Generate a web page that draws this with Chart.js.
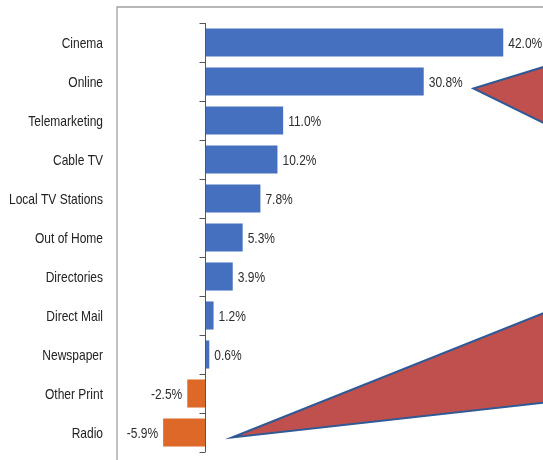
<!DOCTYPE html>
<html>
<head>
<meta charset="utf-8">
<script src="https://cdn.jsdelivr.net/npm/chart.js@4.4.1/dist/chart.umd.min.js"></script>
<style>
  html, body { margin: 0; padding: 0; background: #fff; }
  #wrap { width: 543px; height: 460px; position: relative; }
</style>
</head>
<body>
<div id="wrap"><canvas id="chart"></canvas></div>
<script>
// data
const categories = ['Cinema', 'Online', 'Telemarketing', 'Cable TV', 'Local TV Stations',
  'Out of Home', 'Directories', 'Direct Mail', 'Newspaper', 'Other Print', 'Radio'];
const growth = [42.0, 30.8, 11.0, 10.2, 7.8, 5.3, 3.9, 1.2, 0.6, -2.5, -5.9];

const blue = '#4570bf';
const orange = '#de6828';
const fontFamily = '"Liberation Sans", Arial, sans-serif';

// condensed text (narrow font look)
function narrowText(ctx, txt, x, y, align, sx) {
  ctx.save();
  ctx.translate(x, y);
  ctx.scale(sx, 1);
  ctx.textAlign = align;
  ctx.fillText(txt, 0, 0);
  ctx.restore();
}

// zero axis with tick marks + frame + category labels
const axisPlugin = {
  id: 'axisPlugin',
  afterDatasetsDraw(chart) {
    const { ctx, chartArea, scales } = chart;
    const x0 = Math.round(scales.x.getPixelForValue(0)) + 0.5;
    ctx.save();
    // frame
    ctx.strokeStyle = '#a0a0a0';
    ctx.lineWidth = 1.3;
    ctx.beginPath();
    ctx.moveTo(chartArea.left, chart.height);
    ctx.lineTo(chartArea.left, chartArea.top - 16);
    ctx.lineTo(chart.width, chartArea.top - 16);
    ctx.stroke();
    // zero line
    ctx.strokeStyle = '#555';
    ctx.lineWidth = 1;
    ctx.beginPath();
    ctx.moveTo(x0, scales.y.getPixelForValue(-0.5));
    ctx.lineTo(x0, scales.y.getPixelForValue(categories.length - 0.5));
    for (let i = 0; i <= categories.length; i++) {
      const yy = Math.round(scales.y.getPixelForValue(i - 0.5)) + 0.5;
      ctx.moveTo(x0 - 6, yy);
      ctx.lineTo(x0, yy);
    }
    ctx.stroke();
    // category labels
    ctx.font = '15px ' + fontFamily;
    ctx.fillStyle = '#222';
    ctx.textBaseline = 'middle';
    categories.forEach((c, i) => {
      narrowText(ctx, c, chartArea.left - 14, scales.y.getPixelForValue(i) + 1, 'right', 0.8);
    });
    ctx.restore();
  }
};

// value labels
const valuePlugin = {
  id: 'valuePlugin',
  afterDatasetsDraw(chart) {
    const { ctx } = chart;
    const meta = chart.getDatasetMeta(0);
    ctx.save();
    ctx.font = '15px ' + fontFamily;
    ctx.fillStyle = '#2e2e2e';
    ctx.textBaseline = 'middle';
    meta.data.forEach((bar, i) => {
      const v = growth[i];
      const txt = v.toFixed(1) + '%';
      if (v >= 0) {
        narrowText(ctx, txt, bar.x + 5, bar.y + 1, 'left', 0.8);
      } else {
        narrowText(ctx, txt, bar.x - 5, bar.y + 1, 'right', 0.8);
      }
    });
    ctx.restore();
  }
};

// red callout pointers
const calloutPlugin = {
  id: 'calloutPlugin',
  afterDraw(chart) {
    const { ctx, scales } = chart;
    const W = chart.width;
    const tri = (ax, ay, y1, y2) => {
      ctx.beginPath();
      ctx.moveTo(ax, ay);
      ctx.lineTo(W + 2, y1);
      ctx.lineTo(W + 2, y2);
      ctx.closePath();
      ctx.fill();
      ctx.stroke();
    };
    ctx.save();
    ctx.fillStyle = '#c0504d';
    ctx.strokeStyle = '#2f5a96';
    ctx.lineWidth = 2;
    const a1x = scales.x.getPixelForValue(37.8);
    const a1y = scales.y.getPixelForValue(1) + 7;
    tri(a1x, a1y, a1y - 22, a1y + 35);
    const a2x = scales.x.getPixelForValue(3.8);
    const a2y = scales.y.getPixelForValue(10) + 5;
    tri(a2x, a2y, a2y - 125, a2y - 35);
    ctx.restore();
  }
};

new Chart(document.getElementById('chart'), {
  type: 'bar',
  data: {
    labels: categories,
    datasets: [{
      data: growth,
      backgroundColor: growth.map(v => v < 0 ? orange : blue),
      borderWidth: 0,
      barPercentage: 0.72,
      categoryPercentage: 1
    }]
  },
  options: {
    indexAxis: 'y',
    responsive: true,
    maintainAspectRatio: false,
    animation: false,
    layout: { padding: { top: 23, bottom: 8, left: 0, right: 0 } },
    plugins: {
      legend: { display: false },
      tooltip: { enabled: false }
    },
    scales: {
      x: {
        display: false,
        min: -12.4,
        max: 47.6
      },
      y: {
        grid: { display: false },
        border: { display: false },
        afterFit: (s) => { s.width = 117; },
        ticks: { display: false }
      }
    }
  },
  plugins: [axisPlugin, valuePlugin, calloutPlugin]
});
</script>
</body>
</html>
